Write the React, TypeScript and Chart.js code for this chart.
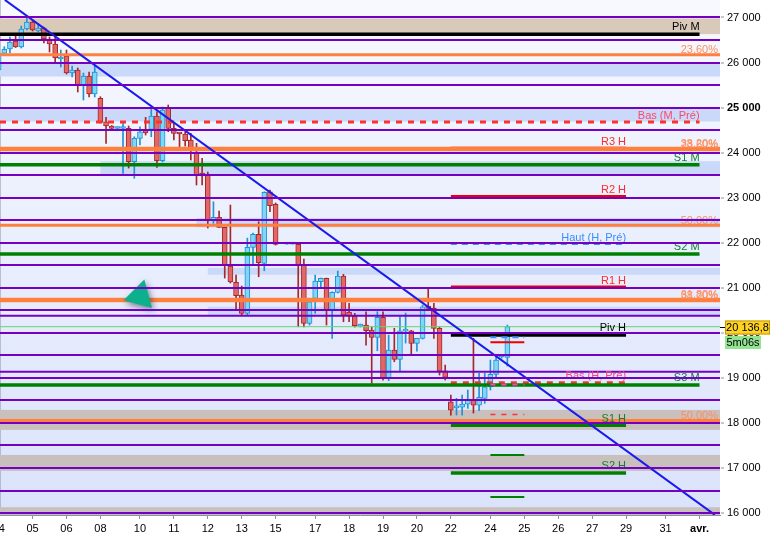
import { useEffect, useRef } from 'react';
import Chart from 'chart.js/auto';

// axe du temps : 1 créneau = 1 bougie de 4h
const dayLabels = ['04', '05', '06', '08', '10', '11', '12', '13', '15', '17', '18', '19', '20', '22', '24', '25', '26', '27', '29', '31', 'avr.'];
const daySlots = [0, 6, 12, 18, 25, 31, 37, 43, 49, 56, 62, 68, 74, 80, 87, 93, 99, 105, 111, 118, 124];

const priceTicks = [16000, 16500, 17000, 17500, 18000, 18500, 19000, 19500, 20000, 20500, 21000, 21500, 22000, 22500, 23000, 23500, 24000, 24500, 25000, 25500, 26000, 26500, 27000];

const candleSlots = [0, 1, 2, 3, 4, 5, 6, 7, 8, 9, 10, 11, 12, 13, 14, 15, 16, 17, 18, 19, 20, 21, 22, 23, 24, 25, 26, 27, 28, 29, 30, 31, 32, 33, 34, 35, 36, 37, 38, 39, 40, 41, 42, 43, 44, 45, 46, 47, 48, 49, 51, 52, 53, 54, 55, 56, 57, 58, 59, 60, 61, 62, 63, 64, 65, 66, 67, 68, 69, 70, 71, 72, 73, 74, 75, 76, 77, 78, 79, 80, 81, 82, 83, 84, 85, 86, 87, 88, 89, 90];
const opens = [25834, 26205, 26300, 26478, 26345, 26744, 26900, 26700, 26766, 26522, 26411, 26078, 26145, 25767, 25834, 25501, 25701, 25301, 25206, 24686, 24591, 24535, 24535, 24540, 23798, 24318, 24490, 24518, 24813, 23820, 24984, 24540, 24429, 24413, 24280, 23998, 23548, 23525, 22489, 22564, 22342, 21483, 21121, 20839, 20433, 21898, 22187, 21543, 23132, 22853, 21970, 21970, 21965, 21521, 20211, 20766, 21135, 21210, 20506, 20899, 21261, 20462, 20373, 20151, 20173, 20062, 19900, 20344, 18990, 19618, 19412, 20040, 20047, 19767, 19878, 20595, 20544, 20100, 19159, 18470, 18335, 18350, 18419, 18524, 18397, 18546, 18803, 19079, 19463, 19456];
const highs = [26234, 26351, 26567, 26611, 26811, 26988, 26944, 26855, 26789, 26567, 26567, 26278, 26278, 25923, 25878, 25767, 25790, 25945, 25241, 24784, 24602, 24575, 24651, 24591, 24353, 24575, 24784, 24984, 24908, 25013, 25057, 24651, 24435, 24458, 24429, 24207, 23874, 23570, 22910, 22704, 22350, 22837, 21283, 21039, 22104, 22215, 22466, 23132, 23170, 22882, 21970, 21970, 21970, 21638, 20690, 21283, 21216, 21216, 20912, 21372, 21299, 20655, 20433, 20195, 20468, 20135, 20468, 20468, 19951, 20100, 20357, 20439, 20055, 19880, 20617, 20988, 20655, 20135, 19285, 18619, 18546, 18619, 18730, 19878, 19101, 19101, 19396, 19507, 19507, 20173];
const lows = [25790, 26195, 26211, 26334, 26322, 26722, 26700, 26678, 26433, 26234, 26012, 25901, 25745, 25679, 25346, 25168, 25235, 25235, 24657, 24207, 24524, 24486, 23541, 23658, 23430, 24169, 24391, 24353, 23674, 23792, 24464, 24280, 24131, 24147, 23836, 23281, 23281, 22326, 22431, 22340, 21216, 21106, 20506, 20395, 20395, 21505, 21245, 21378, 22688, 21949, 21970, 21970, 20135, 20129, 20173, 20433, 20995, 20173, 19878, 20884, 20246, 20246, 20129, 20129, 19729, 18879, 19603, 18952, 18937, 19358, 19136, 19773, 19507, 19596, 19862, 20540, 19878, 19063, 18952, 18175, 18175, 18175, 18324, 18220, 18271, 18435, 18730, 19025, 19440, 19263];
const closes = [26211, 26294, 26456, 26345, 26744, 26900, 26722, 26766, 26522, 26411, 26100, 26123, 25767, 25834, 25501, 25701, 25301, 25790, 24673, 24591, 24540, 24546, 24546, 23798, 24318, 24464, 24440, 24813, 23820, 24946, 24540, 24429, 24413, 24265, 24058, 23503, 23481, 22504, 22564, 22342, 21505, 21128, 20824, 20433, 21898, 22187, 21556, 23119, 22822, 21965, 21970, 21970, 21505, 20211, 20690, 21150, 21210, 20506, 20899, 21261, 20395, 20373, 20158, 20167, 20047, 19900, 20344, 18990, 19618, 19412, 20047, 20055, 19767, 19878, 20579, 20544, 20100, 19152, 19012, 18286, 18353, 18419, 18530, 18397, 18568, 18803, 19079, 19396, 19485, 20136.8];

const lastPrice = 20136.8;
const countdown = '5m06s';

// niveaux : M = mois, H = semaine, J = jour, F = toute la largeur
const levelNames = ['Piv M', '23,60%', 'Bas (M, Pré)', 'R3 H', '38,20%', '23,60%', 'S1 M', 'R2 H', '50,00%', 'Haut (H, Pré)', 'S2 M', 'R1 H', '61,80%', '38,20%', '', 'Piv H', '', '', '', 'Bas (H, Pré)', 'S3 M', '', '', '50,00%', 'S1 H', '', 'S2 H', ''];
const levelValues = [26630, 26175, 24680, 24110, 24100, 24065, 23732, 23037, 22387, 21971, 21749, 21028, 20745, 20712, 20380, 19951, 19900, 19789, 19136, 18892, 18841, 18856, 18190, 18053, 17947, 17291, 16888, 16355];
const levelPeriods = ['M', 'F', 'M', 'H', 'F', 'F', 'M', 'H', 'F', 'H', 'M', 'H', 'F', 'F', 'F', 'H', 'J', 'J', 'F', 'H', 'M', 'J', 'J', 'F', 'H', 'J', 'H', 'J'];
const levelKinds = ['pivot', 'fib', 'low', 'resist', 'fib', 'fib', 'support', 'resist', 'fib', 'high', 'support', 'resist', 'fib', 'fib', 'grid', 'pivot', 'high', 'resist', 'grid', 'low', 'support', 'pink', 'lowThin', 'fib', 'support', 'supportThin', 'support', 'supportThin'];

// zones
const bandHighs = [26980, 26000, 25000, 23810, 22550, 21440, 20580, 18290, 17290, 16130];
const bandLows = [26630, 25690, 24690, 23500, 22340, 21290, 20390, 17845, 16935, 15900];
const bandStarts = [0, 0, 0, 18, 35, 37, 37, 0, 0, 0];
const bandKinds = ['tan', 'blue', 'blue', 'blue', 'blue', 'blue', 'blue', 'grey', 'grey', 'grey'];

const trendSlots = [1.1, 126.7];
const trendPrices = [27390, 15960];
const markerSlot = 25;
const markerPrice = 20820;

const X_MIN = 0.239;
const X_MAX = 127.62;
const Y_MIN = 15957;
const Y_MAX = 27388;
const FONT = '"Liberation Sans", Arial, sans-serif';
const AXIS = '#8593a3';
const PURPLE = '#7400c4';

const BAND_COLORS: Record<string, string> = { tan: '#d9c9b9', blue: '#cad9f9', grey: '#c9c0be' };
const LEVEL_STYLES: Record<string, any> = {
    grid: { color: PURPLE, width: 2 },
    fib: { color: '#ff7f3f', width: 3, text: '#ff8d5c', gap: 0 },
    pivot: { color: '#000000', width: 3.5, text: '#000000', gap: 2 },
    support: { color: '#008000', width: 3.5, text: '#12802f', gap: 2 },
    supportThin: { color: '#008000', width: 2 },
    resist: { color: '#ee0000', width: 2, text: '#ff2b2b', gap: 2 },
    low: { color: '#ff3030', width: 3, dash: [6, 6], text: '#ff4668', gap: 2 },
    lowThin: { color: '#ff3030', width: 1.5, dash: [5, 6] },
    high: { color: '#3f8cff', width: 2, dash: [6, 5], text: '#3a8cff', gap: 2 },
    pink: { color: '#ff40c0', width: 2, dash: [5, 6] },
};

const slotOf = (label: string) => daySlots[dayLabels.indexOf(label)];

function periodSpan(p: string) {
    if (p === 'M') return [X_MIN - 1, slotOf('avr.')];
    if (p === 'H') return [slotOf('22'), slotOf('29')];
    if (p === 'J') return [slotOf('24'), slotOf('25')];
    return [X_MIN - 1, X_MAX + 1];
}

function formatPrice(v: number) {
    const [int, dec] = v.toFixed(1).split('.');
    return int.replace(/\B(?=(\d{3})+(?!\d))/g, ' ') + ',' + dec;
}

const MARKER_INDEX = 2;

function drawLevels(chart: any) {
    const { ctx, chartArea: a, scales: { x, y } } = chart;
    ctx.save();
    ctx.beginPath();
    ctx.rect(a.left, a.top, a.right - a.left, a.bottom - a.top);
    ctx.clip();

    // ligne du dernier cours
    const lp = y.getPixelForValue(lastPrice);
    ctx.strokeStyle = '#6bd36b';
    ctx.lineWidth = 1;
    ctx.beginPath();
    ctx.moveTo(a.left, lp);
    ctx.lineTo(a.right, lp);
    ctx.stroke();

    levelValues.forEach((v, i) => {
        const st = LEVEL_STYLES[levelKinds[i]];
        const [from, to] = periodSpan(levelPeriods[i]);
        const py = y.getPixelForValue(v);
        ctx.strokeStyle = st.color;
        ctx.lineWidth = st.width;
        ctx.setLineDash(st.dash || []);
        ctx.beginPath();
        ctx.moveTo(Math.max(a.left, x.getPixelForValue(from)), py);
        ctx.lineTo(Math.min(a.right, x.getPixelForValue(to)), py);
        ctx.stroke();
    });
    ctx.setLineDash([]);

    ctx.font = '11px ' + FONT;
    ctx.textAlign = 'right';
    ctx.textBaseline = 'alphabetic';
    levelValues.forEach((v, i) => {
        if (!levelNames[i]) return;
        const st = LEVEL_STYLES[levelKinds[i]];
        const [, to] = periodSpan(levelPeriods[i]);
        const tx = levelKinds[i] === 'fib' ? a.right - 2 : Math.min(a.right, x.getPixelForValue(to));
        const ty = y.getPixelForValue(v) - st.width / 2 - st.gap;
        ctx.fillStyle = st.text;
        ctx.fillText(levelNames[i], tx, ty);
    });
    ctx.restore();
}

const overlayPlugin = {
    id: 'overlay',
    beforeDraw(chart: any) {
        const { ctx, chartArea: a } = chart;
        const g = ctx.createLinearGradient(0, a.top, 0, a.bottom);
        g.addColorStop(0, '#f7f9fe');
        g.addColorStop(1, '#dae3fb');
        ctx.save();
        ctx.fillStyle = g;
        ctx.fillRect(a.left, a.top, a.right - a.left, a.bottom - a.top);
        ctx.restore();
    },
    beforeDatasetsDraw(chart: any) {
        const { ctx, chartArea: a, scales: { x, y } } = chart;
        ctx.save();
        ctx.beginPath();
        ctx.rect(a.left, a.top, a.right - a.left, a.bottom - a.top);
        ctx.clip();
        bandHighs.forEach((hi, i) => {
            const x0 = Math.max(a.left, x.getPixelForValue(bandStarts[i]));
            const y0 = y.getPixelForValue(hi);
            const y1 = y.getPixelForValue(bandLows[i]);
            ctx.fillStyle = BAND_COLORS[bandKinds[i]];
            ctx.fillRect(x0, y0, a.right - x0, y1 - y0);
        });
        ctx.restore();
    },
    beforeDatasetDraw(chart: any, args: any) {
        if (args.index !== MARKER_INDEX) return;
        drawLevels(chart);
        const ctx = chart.ctx;
        ctx.save();
        ctx.shadowColor = 'rgba(30,30,60,0.55)';
        ctx.shadowBlur = 6;
        ctx.shadowOffsetX = 2;
        ctx.shadowOffsetY = 3;
    },
    afterDatasetDraw(chart: any, args: any) {
        if (args.index === MARKER_INDEX) chart.ctx.restore();
    },
    afterDraw(chart: any) {
        const { ctx, chartArea: a, scales: { y } } = chart;
        const py = Math.round(y.getPixelForValue(lastPrice)) + 0.5;
        const r = a.right;
        ctx.save();
        ctx.strokeStyle = '#000';
        ctx.lineWidth = 1;
        ctx.beginPath();
        ctx.moveTo(r, py);
        ctx.lineTo(r + 5, py);
        ctx.stroke();
        ctx.fillStyle = '#ffd324';
        ctx.fillRect(r + 5, py - 7, 45, 14);
        ctx.strokeStyle = '#c49a00';
        ctx.strokeRect(r + 5.5, py - 6.5, 44, 13);
        ctx.fillStyle = '#92e492';
        ctx.fillRect(r + 5, py + 8.5, 36, 13);
        ctx.fillStyle = '#000';
        ctx.font = '11px ' + FONT;
        ctx.textAlign = 'center';
        ctx.textBaseline = 'middle';
        ctx.fillText(formatPrice(lastPrice), r + 27.5, py + 0.5);
        ctx.fillText(countdown, r + 23, py + 15.5);
        ctx.restore();
    },
};

const BLUE_FILL = '#7fd6f6';
const BLUE_LINE = '#2392d4';
const RED_FILL = '#e26868';
const RED_LINE = '#a52828';
const isUp = (i: number) => closes[i] >= opens[i];

export default function App() {
    const canvasRef = useRef<HTMLCanvasElement | null>(null);

    useEffect(() => {
        if (!canvasRef.current) {
            return;
        }

        const chart = new Chart(canvasRef.current, {
            type: 'bar',
            data: {
                datasets: [
                    {
                        type: 'bar',
                        data: candleSlots.map((s, i) => ({ x: s, y: [lows[i], highs[i]] })),
                        backgroundColor: (c: any) => (isUp(c.dataIndex) ? BLUE_LINE : RED_LINE),
                        borderWidth: 0,
                        barThickness: 1,
                        minBarLength: 1,
                        grouped: false,
                        order: 4,
                    },
                    {
                        type: 'bar',
                        data: candleSlots.map((s, i) => ({ x: s, y: [opens[i], closes[i]] })),
                        backgroundColor: (c: any) => (isUp(c.dataIndex) ? BLUE_FILL : RED_FILL),
                        borderColor: (c: any) => (isUp(c.dataIndex) ? BLUE_LINE : RED_LINE),
                        borderWidth: 1,
                        borderSkipped: false,
                        barThickness: 5,
                        minBarLength: 2,
                        grouped: false,
                        order: 3,
                    },
                    {
                        type: 'scatter',
                        data: [{ x: markerSlot, y: markerPrice }],
                        pointStyle: 'triangle',
                        pointRadius: 17,
                        pointRotation: -105,
                        pointBackgroundColor: '#0bb08c',
                        pointBorderWidth: 0,
                        order: 1,
                    },
                    {
                        type: 'line',
                        data: trendSlots.map((s, i) => ({ x: s, y: trendPrices[i] })),
                        borderColor: '#1a1aee',
                        borderWidth: 2,
                        pointRadius: 0,
                        fill: false,
                        order: 0,
                    },
                ] as any,
            },
            options: {
                animation: false,
                responsive: false,
                events: [],
                layout: { padding: 0, autoPadding: false },
                plugins: { legend: { display: false }, tooltip: { enabled: false } },
                scales: {
                    x: {
                        type: 'linear',
                        min: X_MIN,
                        max: X_MAX,
                        offset: false,
                        afterBuildTicks: (s: any) => { s.ticks = daySlots.map((v) => ({ value: v })); },
                        afterFit: (s: any) => { s.height = 22; s.paddingLeft = 0; s.paddingRight = 0; },
                        grid: { offset: false, drawOnChartArea: false, tickLength: 4, color: AXIS },
                        border: { display: true, color: AXIS, width: 1 },
                        ticks: {
                            autoSkip: false,
                            maxRotation: 0,
                            minRotation: 0,
                            padding: 3,
                            color: '#000',
                            font: (c: any) => ({ family: FONT, size: 11, weight: c.tick && c.tick.value === slotOf('avr.') ? 'bold' : 'normal' }),
                            callback: (_v: any, i: number) => dayLabels[i],
                        },
                    },
                    y: {
                        type: 'linear',
                        position: 'right',
                        min: Y_MIN,
                        max: Y_MAX,
                        afterBuildTicks: (s: any) => { s.ticks = priceTicks.map((v) => ({ value: v })); },
                        afterFit: (s: any) => { s.width = 51; s.paddingTop = 0; s.paddingBottom = 0; },
                        grid: {
                            z: 1,
                            color: PURPLE,
                            lineWidth: 2,
                            tickLength: 4,
                            tickWidth: 1,
                            tickColor: (c: any) => (c.tick && c.tick.value % 1000 === 0 ? AXIS : 'rgba(0,0,0,0)'),
                        },
                        border: { display: true, color: AXIS, width: 1 },
                        ticks: {
                            padding: 3,
                            color: '#000',
                            font: (c: any) => ({ family: FONT, size: 11, weight: c.tick && c.tick.value === 25000 ? 'bold' : 'normal' }),
                            callback: (v: any) => (v % 1000 === 0 ? `${v / 1000} 000` : ''),
                        },
                    },
                },
            } as any,
            plugins: [overlayPlugin],
        });
        return () => chart.destroy();
    }, []);

    return (
        <div style={{ position: 'absolute', left: 0, top: 0, width: 771, height: 537, background: '#fff' }}>
            <canvas ref={canvasRef} width={771} height={537} style={{ display: 'block' }} />
        </div>
    );
}
